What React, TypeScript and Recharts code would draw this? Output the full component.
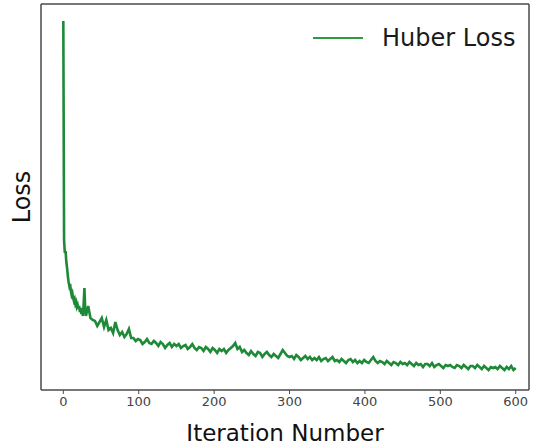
import React from 'react';
import { LineChart, Line, XAxis, YAxis, Legend } from 'recharts';

// iterations 0..30, one per step (steep initial drop)
const earlyIters = [
  0, 1, 2, 3, 4, 5, 6, 7, 8, 9, 10, 11, 12, 13, 14, 15, 16, 17, 18, 19, 20,
  21, 22, 23, 24, 25, 26, 27, 28, 29, 30,
];
const earlyLoss = [
  3.69, 1.5, 1.37, 1.39, 1.28, 1.22, 1.14, 1.08, 1.04, 1.06, 0.99, 0.95, 0.97,
  0.92, 0.89, 0.91, 0.86, 0.88, 0.83, 0.85, 0.81, 0.84, 0.78, 0.82, 0.76, 0.79,
  0.74, 0.87, 1.02, 0.82, 0.74,
];

// iterations 33..600, every 3rd iteration
const lateStart = 33;
const lateStep = 3;
const lateLoss = [
  0.84, 0.72, 0.7, 0.69, 0.64, 0.68, 0.72, 0.63, 0.7, 0.6,
  0.62, 0.57, 0.68, 0.6, 0.55, 0.58, 0.53, 0.56, 0.61, 0.52,
  0.52, 0.49, 0.51, 0.5, 0.46, 0.48, 0.51, 0.47, 0.46, 0.49,
  0.47, 0.44, 0.48, 0.46, 0.42, 0.45, 0.47, 0.43, 0.46, 0.44,
  0.46, 0.42, 0.44, 0.45, 0.41, 0.43, 0.46, 0.42, 0.4, 0.43,
  0.42, 0.39, 0.43, 0.41, 0.38, 0.42, 0.4, 0.37, 0.41, 0.39,
  0.41, 0.37, 0.4, 0.42, 0.44, 0.47, 0.41, 0.43, 0.38, 0.4,
  0.37, 0.35, 0.39, 0.36, 0.34, 0.38, 0.37, 0.33, 0.36, 0.38,
  0.35, 0.33, 0.36, 0.34, 0.32, 0.36, 0.4, 0.37, 0.34, 0.33,
  0.34, 0.31, 0.35, 0.33, 0.3, 0.32, 0.34, 0.31, 0.33, 0.3,
  0.32, 0.3, 0.33, 0.29, 0.31, 0.32, 0.29, 0.31, 0.33, 0.29,
  0.3, 0.28, 0.31, 0.29, 0.27, 0.3, 0.31, 0.28, 0.3, 0.27,
  0.29, 0.27, 0.3, 0.28, 0.27, 0.3, 0.33, 0.29, 0.27, 0.29,
  0.28, 0.26, 0.29, 0.27, 0.25, 0.28, 0.27, 0.25, 0.28, 0.26,
  0.27, 0.25, 0.28, 0.26, 0.24, 0.27, 0.25, 0.26, 0.23, 0.26,
  0.26, 0.24, 0.27, 0.23, 0.25, 0.26, 0.24, 0.22, 0.25, 0.24,
  0.25, 0.23, 0.22, 0.25, 0.24, 0.22, 0.25, 0.23, 0.21, 0.24,
  0.24, 0.22, 0.25, 0.23, 0.21, 0.24, 0.22, 0.2, 0.23, 0.22,
  0.23, 0.21, 0.24, 0.22, 0.2, 0.23, 0.21, 0.24, 0.2, 0.22,
];

const xTicks = [0, 100, 200, 300, 400, 500, 600];

const data = [
  ...earlyIters.map((it, i) => ({ iter: it, loss: earlyLoss[i] })),
  ...lateLoss.map((v, i) => ({ iter: lateStart + i * lateStep, loss: v })),
];

const GREEN = '#1e8a38';
const SPINE = '#4a4a4a';
const FONT = 'DejaVu Sans, sans-serif';
const X_DOMAIN = [-29.6, 617.6];

const LegendBox = () => (
  <div style={{ display: 'flex', alignItems: 'center', fontFamily: FONT }}>
    <svg width={50} height={4} style={{ display: 'block' }}>
      <line x1={0} y1={2} x2={50} y2={2} stroke="#2f9a40" strokeWidth={2.2} />
    </svg>
    <span style={{ marginLeft: 19, fontSize: 24, lineHeight: '24px', color: '#1a1a1a' }}>Huber Loss</span>
  </div>
);

export default function App() {
  return (
    <div style={{ width: 539, height: 447, background: '#fff' }}>
      <style>{'body{margin:0}'}</style>
      <LineChart width={539} height={447} data={data} margin={{ top: 0, right: 0, bottom: 0, left: 0 }}>
        <XAxis
          xAxisId="b"
          dataKey="iter"
          type="number"
          domain={X_DOMAIN}
          ticks={xTicks}
          height={57}
          tickSize={4}
          tickMargin={3}
          axisLine={{ stroke: SPINE, strokeWidth: 1.5 }}
          tickLine={{ stroke: SPINE, strokeWidth: 1 }}
          tick={{ fill: '#444', fontSize: 13, fontFamily: FONT }}
          label={{ value: 'Iteration Number', position: 'insideBottom', offset: 6, fill: '#111', fontSize: 23, fontFamily: FONT }}
        />
        <XAxis xAxisId="t" orientation="top" type="number" domain={X_DOMAIN} height={4} tick={false} tickLine={false} axisLine={{ stroke: SPINE, strokeWidth: 1.5 }} />
        <YAxis
          yAxisId="l"
          type="number"
          domain={[0, 3.86]}
          width={41}
          tick={false}
          tickLine={false}
          axisLine={{ stroke: SPINE, strokeWidth: 1.5 }}
          label={{ value: 'Loss', angle: -90, position: 'center', dx: 1, fill: '#111', fontSize: 24, fontFamily: FONT }}
        />
        <YAxis yAxisId="r" orientation="right" type="number" domain={[0, 3.86]} width={10} tick={false} tickLine={false} axisLine={{ stroke: SPINE, strokeWidth: 1.5 }} />
        <Legend
          layout="horizontal"
          verticalAlign="middle"
          align="center"
          wrapperStyle={{ top: 26, left: 313, width: 'auto' }}
          content={() => <LegendBox />}
        />
        <Line
          xAxisId="b"
          yAxisId="l"
          type="linear"
          dataKey="loss"
          name="Huber Loss"
          stroke={GREEN}
          strokeWidth={2.6}
          dot={false}
          isAnimationActive={false}
        />
      </LineChart>
    </div>
  );
}
